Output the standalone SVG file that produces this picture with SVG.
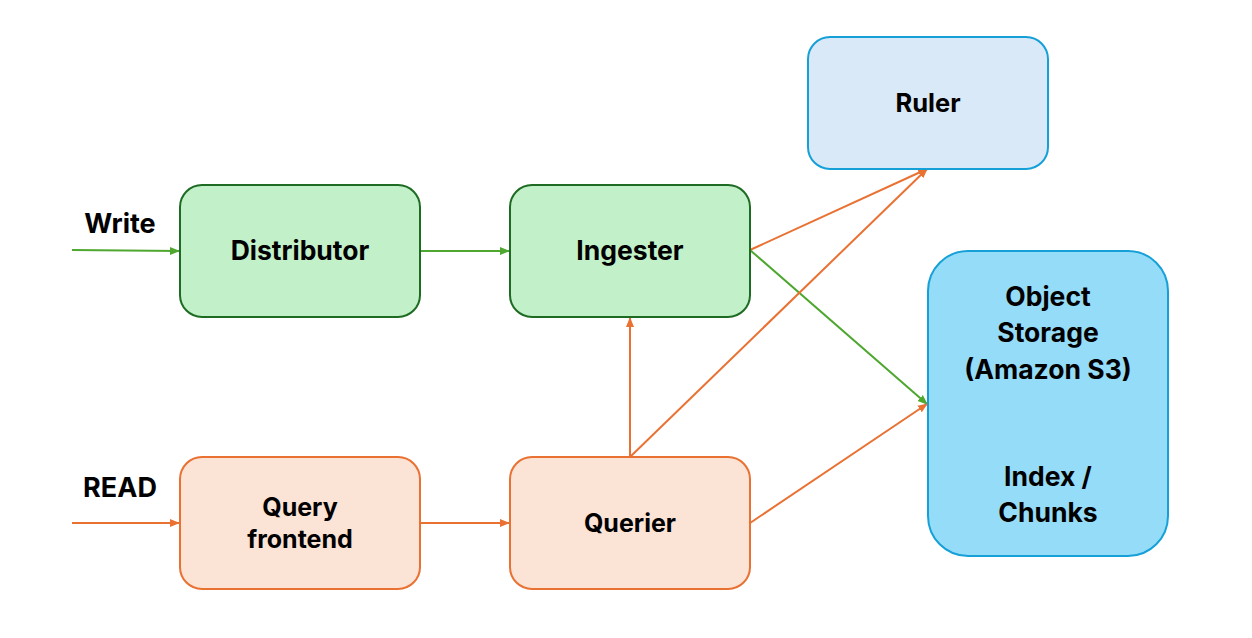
<svg xmlns="http://www.w3.org/2000/svg" width="1252" height="638" viewBox="0 0 1252 638">
<style>
text{font-family:Inter,"Liberation Sans",Arial,sans-serif;font-weight:bold;fill:#000;text-anchor:middle}
.g{fill:#c2f0c8;stroke:#1e6b23;stroke-width:2}
.o{fill:#fbe3d6;stroke:#e97132;stroke-width:2}
.b{fill:#dae9f8;stroke:#15a0d8;stroke-width:2}
.s{fill:#94dcf8;stroke:#15a0d8;stroke-width:2}
.lg{stroke:#4ea72e;stroke-width:2;fill:none}
.lo{stroke:#e97132;stroke-width:2;fill:none}
</style>
<defs>
<marker id="ag" markerWidth="10" markerHeight="10" refX="9" refY="5" orient="auto" markerUnits="userSpaceOnUse"><path d="M0,1 L10,5 L0,9 Z" fill="#4ea72e"/></marker>
<marker id="ao" markerWidth="10" markerHeight="10" refX="9" refY="5" orient="auto" markerUnits="userSpaceOnUse"><path d="M0,1 L10,5 L0,9 Z" fill="#e97132"/></marker>
</defs>
<rect width="1252" height="638" fill="#fff"/>
<g id="connectors">
<line class="lg" x1="72" y1="250" x2="179" y2="251" marker-end="url(#ag)"/>
<line class="lg" x1="421" y1="251" x2="509" y2="251" marker-end="url(#ag)"/>
<line class="lo" x1="750" y1="250" x2="927" y2="169" marker-end="url(#ao)"/>
<line class="lg" x1="750" y1="250" x2="927" y2="404" marker-end="url(#ag)"/>
<line class="lo" x1="630" y1="457" x2="630" y2="318" marker-end="url(#ao)"/>
<line class="lo" x1="630" y1="457" x2="927" y2="169" marker-end="url(#ao)"/>
<line class="lo" x1="750" y1="523" x2="927" y2="404" marker-end="url(#ao)"/>
<line class="lo" x1="72" y1="523" x2="179" y2="523" marker-end="url(#ao)"/>
<line class="lo" x1="421" y1="523" x2="509" y2="523" marker-end="url(#ao)"/>
</g>
<g id="label-write"><text x="120" y="233" font-size="27">Write</text></g>
<g id="label-read"><text x="120" y="497" font-size="27">READ</text></g>
<g id="distributor"><rect class="g" x="180" y="185" width="240" height="132" rx="22"/><text x="300" y="260" font-size="26.5">Distributor</text></g>
<g id="ingester"><rect class="g" x="510" y="185" width="240" height="132" rx="22"/><text x="630" y="260" font-size="26.5">Ingester</text></g>
<g id="query-frontend"><rect class="o" x="180" y="457" width="240" height="132" rx="22"/><text x="300" y="516" font-size="25">Query</text><text x="300" y="548" font-size="25">frontend</text></g>
<g id="querier"><rect class="o" x="510" y="457" width="240" height="132" rx="22"/><text x="630" y="532" font-size="25">Querier</text></g>
<g id="ruler"><rect class="b" x="808" y="37" width="240" height="132" rx="22"/><text x="928" y="112" font-size="25.5">Ruler</text></g>
<g id="object-storage"><rect class="s" x="928" y="251" width="240" height="305" rx="40"/>
<text x="1048" y="306" font-size="26.5">Object</text>
<text x="1048" y="342" font-size="26.5">Storage</text>
<text x="1048" y="379" font-size="26.5">(Amazon S3)</text>
<text x="1048" y="486" font-size="26.5">Index /</text>
<text x="1048" y="522" font-size="26.5">Chunks</text>
</g>
</svg>
